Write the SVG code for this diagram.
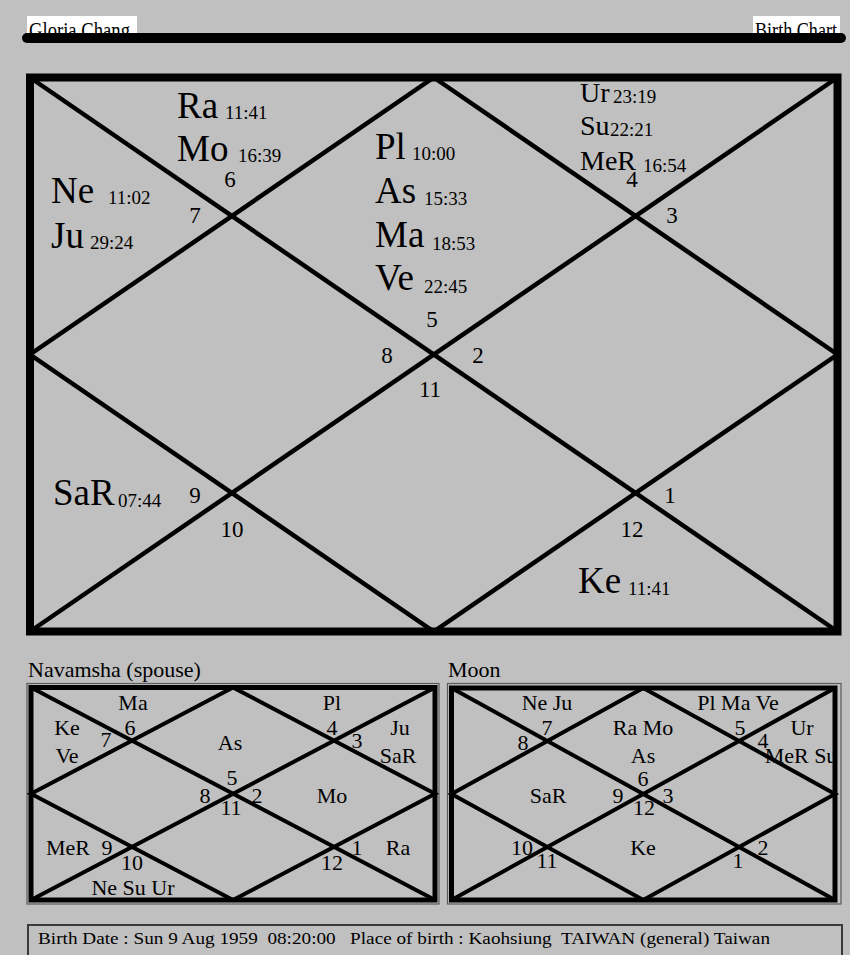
<svg xmlns="http://www.w3.org/2000/svg" width="850" height="955" viewBox="0 0 850 955">
<style>
text{font-family:"Liberation Serif","Times New Roman",serif;fill:#000}
.big{font-size:37px}
.mid{font-size:28px}
.sm{font-size:19px}
.num{font-size:23px;text-anchor:middle}
.s{font-size:22px;text-anchor:middle}
.lbl{font-size:22px}
.frame{fill:none;stroke:#000}
.ln{fill:none;stroke:#000;stroke-linejoin:miter}
.thin{fill:none;stroke:#5a5a5a;stroke-width:1.2}
</style>
<rect x="0" y="0" width="850" height="955" fill="#c0c0c0"/>

<g id="header">
  <rect x="27" y="16" width="110" height="18" fill="#fff"/>
  <rect x="753" y="16" width="87" height="18" fill="#fff"/>
  <text x="29" y="38" font-size="23" textLength="101" lengthAdjust="spacingAndGlyphs">Gloria Chang</text>
  <text x="755" y="38" font-size="23" textLength="82" lengthAdjust="spacingAndGlyphs">Birth Chart</text>
  <line x1="27" y1="38" x2="841" y2="38" stroke="#000" stroke-width="10" stroke-linecap="round"/>
</g>

<g id="main-chart">
  <g id="main-connectors">
    <rect class="frame" x="30" y="77.5" width="807.5" height="554" stroke-width="8"/>
    <line class="ln" x1="30" y1="77.5" x2="837.5" y2="631.5" stroke-width="4.5"/>
    <line class="ln" x1="837.5" y1="77.5" x2="30" y2="631.5" stroke-width="4.5"/>
    <polygon class="ln" points="433.75,77.5 837.5,354.5 433.75,631.5 30,354.5" stroke-width="4.5"/>
  </g>
  <g id="house-6">
    <text class="big" x="177" y="118">Ra</text><text class="sm" x="225" y="119">11:41</text>
    <text class="big" x="177" y="161">Mo</text><text class="sm" x="238" y="162">16:39</text>
    <text class="num" x="230" y="187">6</text>
  </g>
  <g id="house-7">
    <text class="big" x="51" y="203">Ne</text><text class="sm" x="108" y="204">11:02</text>
    <text class="big" x="51" y="248">Ju</text><text class="sm" x="90" y="249">29:24</text>
    <text class="num" x="195" y="223">7</text>
  </g>
  <g id="house-5">
    <text class="big" x="375" y="159">Pl</text><text class="sm" x="412" y="160">10:00</text>
    <text class="big" x="375" y="203">As</text><text class="sm" x="424" y="205">15:33</text>
    <text class="big" x="375" y="247">Ma</text><text class="sm" x="432" y="250">18:53</text>
    <text class="big" x="375" y="290">Ve</text><text class="sm" x="424" y="293">22:45</text>
    <text class="num" x="432" y="327">5</text>
  </g>
  <g id="house-4">
    <text class="mid" x="580" y="102">Ur</text><text class="sm" x="613" y="103">23:19</text>
    <text class="mid" x="580" y="135">Su</text><text class="sm" x="610" y="136">22:21</text>
    <text class="mid" x="580" y="170">MeR</text><text class="sm" x="643" y="172">16:54</text>
    <text class="num" x="632" y="187">4</text>
  </g>
  <g id="house-3"><text class="num" x="672" y="223">3</text></g>
  <g id="house-8"><text class="num" x="387" y="363">8</text></g>
  <g id="house-2"><text class="num" x="478" y="363">2</text></g>
  <g id="house-11"><text class="num" x="430" y="397">11</text></g>
  <g id="house-9">
    <text class="big" x="53" y="505">SaR</text><text class="sm" x="118" y="507">07:44</text>
    <text class="num" x="195" y="503">9</text>
  </g>
  <g id="house-10"><text class="num" x="232" y="537">10</text></g>
  <g id="house-1"><text class="num" x="670" y="503">1</text></g>
  <g id="house-12">
    <text class="num" x="632" y="537">12</text>
    <text class="big" x="578" y="593">Ke</text><text class="sm" x="628" y="595">11:41</text>
  </g>
</g>

<g id="navamsha-chart">
  <text class="lbl" x="28" y="677">Navamsha (spouse)</text>
  <g id="navamsha-connectors">
    <rect class="thin" x="27" y="683.5" width="412" height="220.5"/>
    <rect class="frame" x="31" y="687.5" width="404" height="212.5" stroke-width="5"/>
    <line class="ln" x1="31" y1="687.5" x2="435" y2="900" stroke-width="4"/>
    <line class="ln" x1="435" y1="687.5" x2="31" y2="900" stroke-width="4"/>
    <polygon class="ln" points="233,687.5 435,793.75 233,900 31,793.75" stroke-width="4"/>
  </g>
  <g id="nav-texts">
    <text class="s" x="133" y="710">Ma</text>
    <text class="s" x="332" y="710">Pl</text>
    <text class="s" x="67" y="735">Ke</text>
    <text class="s" x="67" y="763">Ve</text>
    <text class="s" x="106" y="747">7</text>
    <text class="s" x="130" y="735">6</text>
    <text class="s" x="230" y="750">As</text>
    <text class="s" x="332" y="735">4</text>
    <text class="s" x="357" y="748">3</text>
    <text class="s" x="400" y="735">Ju</text>
    <text class="s" x="398" y="763">SaR</text>
    <text class="s" x="232" y="785">5</text>
    <text class="s" x="205" y="803">8</text>
    <text class="s" x="257" y="803">2</text>
    <text class="s" x="231" y="815">11</text>
    <text class="s" x="332" y="803">Mo</text>
    <text class="s" x="68" y="855">MeR</text>
    <text class="s" x="107" y="855">9</text>
    <text class="s" x="132" y="870">10</text>
    <text class="s" x="133" y="895">Ne Su Ur</text>
    <text class="s" x="357" y="855">1</text>
    <text class="s" x="332" y="870">12</text>
    <text class="s" x="398" y="855">Ra</text>
  </g>
</g>

<g id="moon-chart">
  <text class="lbl" x="448" y="677">Moon</text>
  <g id="moon-connectors">
    <rect class="thin" x="447.5" y="683.5" width="393.5" height="220.5"/>
    <rect class="frame" x="451.5" y="688" width="383.5" height="212" stroke-width="5"/>
    <line class="ln" x1="451.5" y1="688" x2="835" y2="900" stroke-width="4"/>
    <line class="ln" x1="835" y1="688" x2="451.5" y2="900" stroke-width="4"/>
    <polygon class="ln" points="643.25,688 835,794 643.25,900 451.5,794" stroke-width="4"/>
  </g>
  <g id="moon-texts">
    <text class="s" x="547" y="710">Ne Ju</text>
    <text class="s" x="738" y="710">Pl Ma Ve</text>
    <text class="s" x="523" y="750">8</text>
    <text class="s" x="547" y="735">7</text>
    <text class="s" x="643" y="735">Ra Mo</text>
    <text class="s" x="643" y="763">As</text>
    <text class="s" x="740" y="735">5</text>
    <text class="s" x="763" y="748">4</text>
    <text class="s" x="802" y="735">Ur</text>
    <text class="s" x="801" y="763">MeR Su</text>
    <text class="s" x="643" y="786">6</text>
    <text class="s" x="618" y="803">9</text>
    <text class="s" x="668" y="803">3</text>
    <text class="s" x="644" y="815">12</text>
    <text class="s" x="548" y="803">SaR</text>
    <text class="s" x="522" y="855">10</text>
    <text class="s" x="547" y="868">11</text>
    <text class="s" x="643" y="855">Ke</text>
    <text class="s" x="763" y="855">2</text>
    <text class="s" x="738" y="868">1</text>
  </g>
</g>

<g id="birth-info">
  <rect x="28" y="925" width="814" height="45" fill="none" stroke="#3a3a3a" stroke-width="2"/>
  <text x="38" y="944" font-size="17" xml:space="preserve" textLength="732" lengthAdjust="spacingAndGlyphs">Birth Date : Sun 9 Aug 1959  08:20:00   Place of birth : Kaohsiung  TAIWAN (general) Taiwan</text>
</g>
</svg>
